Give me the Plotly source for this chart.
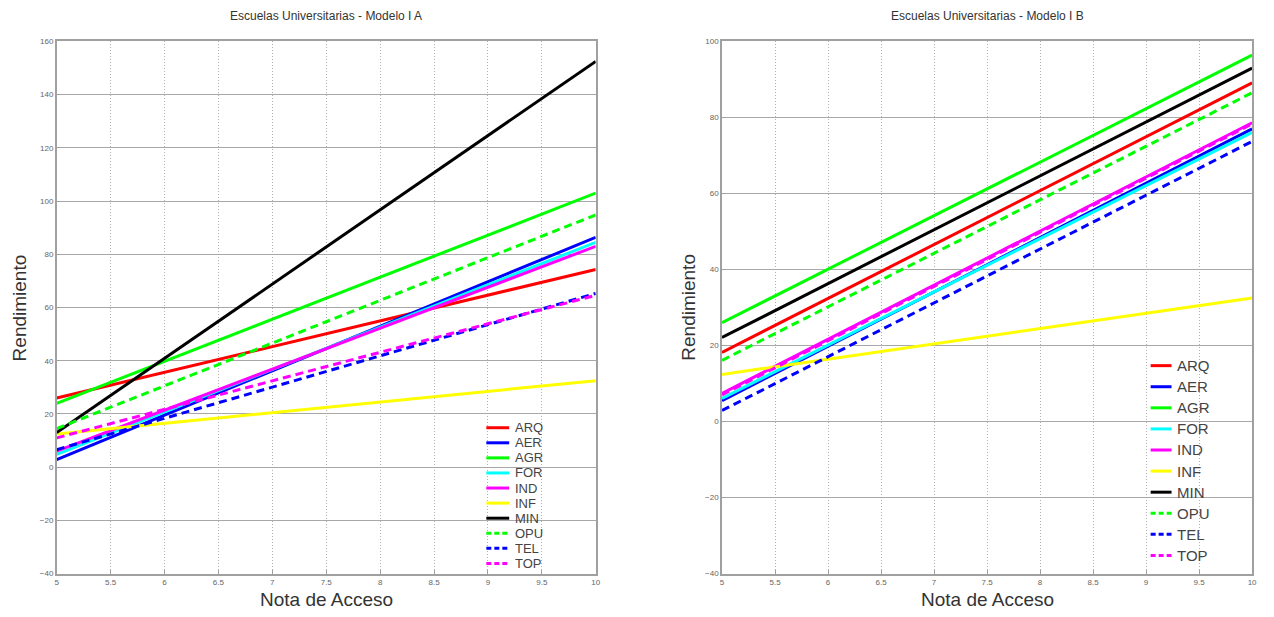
import plotly.graph_objects as go

# Schools and line styles
escuelas = ["ARQ", "AER", "AGR", "FOR", "IND", "INF", "MIN", "OPU", "TEL", "TOP"]
colores = ["#ff0000", "#0000ff", "#00ff00", "#00ffff", "#ff00ff",
           "#ffff00", "#000000", "#00ff00", "#0000ff", "#ff00ff"]
trazos = ["solid"] * 7 + ["dash", "dash", "dash"]

# Nota de acceso (x) at which each model line is evaluated
nota = [5, 10]

# Modelo I A: rendimiento at nota 5 and nota 10
modelo_a_5 = [26.0, 2.8, 24.0, 4.8, 6.0, 12.5, 13.0, 14.5, 6.6, 11.0]
modelo_a_10 = [74.3, 86.4, 103.0, 84.5, 83.0, 32.5, 152.5, 94.8, 65.3, 64.6]

# Modelo I B: rendimiento at nota 5 and nota 10
modelo_b_5 = [18.2, 5.5, 26.0, 6.1, 7.4, 12.4, 22.1, 16.1, 2.9, 7.0]
modelo_b_10 = [89.1, 77.0, 96.4, 76.1, 78.6, 32.5, 93.0, 86.5, 73.7, 78.3]

x_ticks = [5, 5.5, 6, 6.5, 7, 7.5, 8, 8.5, 9, 9.5, 10]
y_ticks_a = list(range(-40, 161, 20))
y_ticks_b = list(range(-40, 101, 20))

W, H = 1274, 617
dom_x_a = [55 / W, 597 / W]
dom_x_b = [724 / W, 1257 / W]
dom_y = [1 - 578 / H, 1 - 38 / H]

DASH = "8px,5px"


def estilo(i):
    return DASH if trazos[i] == "dash" else "solid"


fig = go.Figure()

for i, nombre in enumerate(escuelas):
    fig.add_trace(go.Scatter(
        x=nota, y=[modelo_a_5[i], modelo_a_10[i]], mode="lines", name=nombre,
        line=dict(color=colores[i], width=3, dash=estilo(i)),
        xaxis="x", yaxis="y", showlegend=False))
for i, nombre in enumerate(escuelas):
    fig.add_trace(go.Scatter(
        x=nota, y=[modelo_b_5[i], modelo_b_10[i]], mode="lines", name=nombre,
        line=dict(color=colores[i], width=3, dash=estilo(i)),
        xaxis="x2", yaxis="y2", showlegend=False))

tick_font = dict(family="Liberation Sans, Arial", size=8, color="#666666")
x_common = dict(range=[5, 10], tickvals=x_ticks, ticktext=[f"{v:g}" for v in x_ticks],
                showgrid=True, gridcolor="#b0b0b0", griddash="1px,2px", gridwidth=1,
                showline=True, linecolor="#a0a0a0", linewidth=1.5, mirror=True,
                ticks="inside", ticklen=4, tickcolor="#a0a0a0",
                tickfont=tick_font, zeroline=False)
y_common = dict(showgrid=True, gridcolor="#a8a8a8", gridwidth=1,
                showline=True, linecolor="#a0a0a0", linewidth=1.5, mirror=True,
                ticks="inside", ticklen=4, tickcolor="#a0a0a0",
                tickfont=tick_font, zeroline=False)

fig.update_layout(
    width=W, height=H,
    margin=dict(l=0, r=0, t=0, b=0),
    paper_bgcolor="white", plot_bgcolor="white",
    xaxis=dict(domain=dom_x_a, anchor="y", **x_common),
    yaxis=dict(domain=dom_y, anchor="x", range=[-40, 160], tickvals=y_ticks_a, **y_common),
    xaxis2=dict(domain=dom_x_b, anchor="y2", **x_common),
    yaxis2=dict(domain=dom_y, anchor="x2", range=[-40, 100], tickvals=y_ticks_b, **y_common),
    showlegend=False,
)

# Legends: one per panel, a short line sample and the school name
leyendas = [
    dict(y0=430, paso=15.3, x0=487, x1=510, xt=514, size=13),
    dict(y0=367, paso=21.4, x0=1155, x1=1176, xt=1179, size=15),
]
for ley in leyendas:
    for i, nombre in enumerate(escuelas):
        yy = 1 - (ley["y0"] + i * ley["paso"]) / H
        fig.add_shape(type="line", xref="paper", yref="paper",
                      x0=ley["x0"] / W, x1=ley["x1"] / W, y0=yy, y1=yy,
                      line=dict(color=colores[i], width=3,
                                dash="5px,3px" if trazos[i] == "dash" else "solid"))
        fig.add_annotation(x=ley["xt"] / W, y=yy, xref="paper", yref="paper",
                           xanchor="left", yanchor="middle", text=nombre, showarrow=False,
                           font=dict(family="Liberation Sans, Arial", size=ley["size"],
                                     color="#444444"))

title_font = dict(family="Liberation Sans, Arial", size=12, color="#333333")
axis_font = dict(family="Liberation Sans, Arial", size=19, color="#333333")
for cx, texto in [((55 + 597) / 2, "Escuelas Universitarias - Modelo I A"),
                  ((724 + 1257) / 2, "Escuelas Universitarias - Modelo I B")]:
    fig.add_annotation(x=cx / W, y=1 - 12 / H, xref="paper", yref="paper",
                       xanchor="center", yanchor="middle",
                       text=texto, showarrow=False, font=title_font)
    fig.add_annotation(x=cx / W, y=1 - 604 / H, xref="paper", yref="paper",
                       xanchor="center", yanchor="middle",
                       text="Nota de Acceso", showarrow=False, font=axis_font)
for cx in [18, 690]:
    fig.add_annotation(x=cx / W, y=1 - 308 / H, xref="paper", yref="paper",
                       xanchor="center", yanchor="middle",
                       text="Rendimiento", showarrow=False, textangle=-90, font=axis_font)

fig.write_html("out.html")
